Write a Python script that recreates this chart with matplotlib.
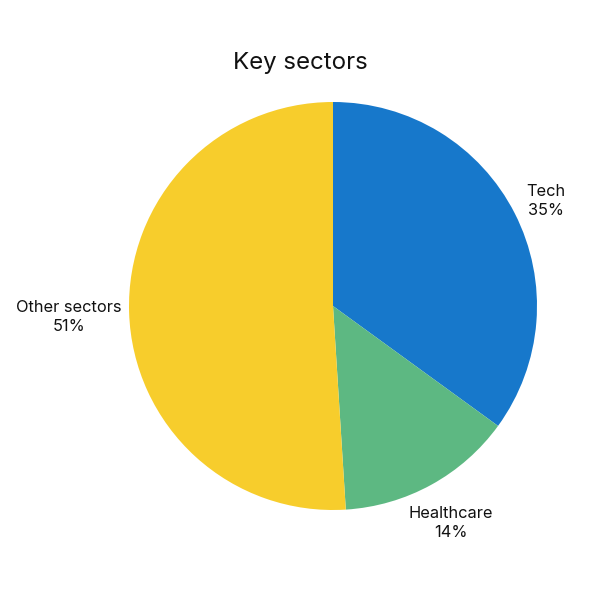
import matplotlib.pyplot as plt

plt.rcParams['font.family'] = ['Inter', 'DejaVu Sans']

# data
sectors = ['Tech', 'Healthcare', 'Other sectors']
shares = [35, 14, 51]
colors = ['#1778CB', '#5DB882', '#F7CD2C']

# label spots, in pie-radius units
label_pos = [(1.044, 0.515), (0.578, -1.064), (-1.294, -0.054)]

fig = plt.figure(figsize=(6, 6), dpi=100)
ax = fig.add_axes([0.215, 0.15, 0.68, 0.68])

ax.pie(shares, colors=colors, startangle=90, counterclock=False,
       radius=1, wedgeprops=dict(linewidth=0))

for name, val, (x, y) in zip(sectors, shares, label_pos):
    ax.text(x, y, f'{name}\n{val}%', ha='center', va='center',
            fontsize=11.8, linespacing=1.32, color='#111111')

ax.set_xlim(-1, 1)
ax.set_ylim(-1, 1)
ax.set_aspect('equal')
ax.axis('off')

fig.text(0.5, 0.895, 'Key sectors', ha='center', va='center',
         fontsize=17.3, color='#111111')

fig.savefig('out.png', dpi=100)
